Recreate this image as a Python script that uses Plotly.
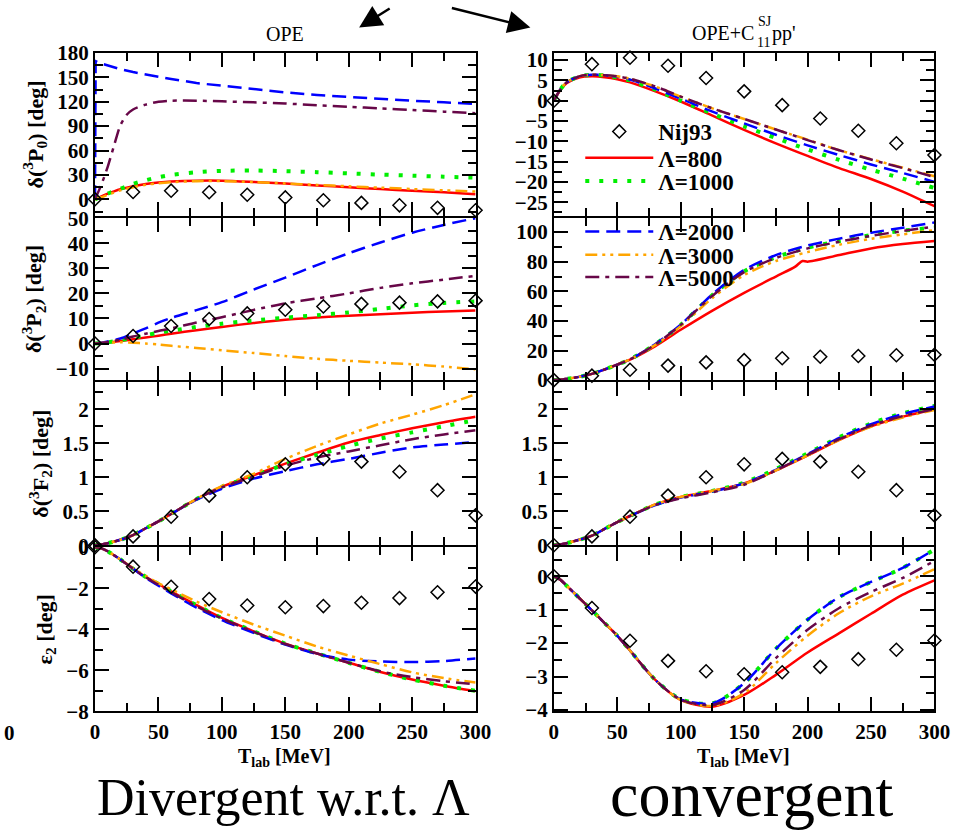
import plotly.graph_objects as go

# ---------------- data ----------------
T = [0, 5, 10, 20, 30, 40, 50, 60, 80, 100, 125, 150, 175, 200, 225, 250, 275, 300]
T_P0 = [0, 5, 10, 15, 20, 25, 30, 40, 50, 60, 80, 100, 125, 150, 175, 200, 225, 250, 275, 300]
T_P0_2000 = [0, 0.5, 5, 10, 20, 30, 45, 60, 80, 100, 125, 150, 175, 200, 225, 250, 275, 300]
T_P2C_800 = [0, 5, 10, 20, 30, 40, 50, 60, 80, 100, 125, 150, 175, 190, 196, 200, 225, 250, 275, 300]
T_NIJ = [0, 30, 60, 90, 120, 150, 180, 210, 240, 270, 300]

NIJ_P0 = [0, 9.0, 10.6, 8.6, 5.6, 2.3, -1.1, -4.4, -7.4, -10.5, -13.4]
NIJ_P2 = [0, 3.0, 7.0, 9.8, 12.0, 13.5, 14.8, 15.8, 16.3, 16.8, 17.1]
NIJ_F2 = [0, 0.13, 0.42, 0.73, 1.0, 1.19, 1.27, 1.23, 1.08, 0.81, 0.44]
NIJ_E2 = [0, -0.95, -1.93, -2.53, -2.84, -2.93, -2.87, -2.71, -2.48, -2.2, -1.92]

# 3P0, OPE (left)
P0_OPE_800 = [0, 3.5, 7, 9.8, 12.3, 14.3, 16, 18.8, 20.6, 21.8, 22.9, 22.9, 21.3, 19.3, 17.1, 14.8, 12.6, 10.6, 8.7, 6.3]
P0_OPE_1000 = [0, 3.5, 7, 10, 13, 16, 19, 23.5, 27.2, 30, 33.2, 35, 35.4, 34.6, 33.4, 31.9, 30.4, 29.1, 27.8, 26.6]
P0_OPE_2000 = [0, 170, 167, 164.5, 160, 156.5, 152, 148, 143, 139.5, 135, 131.5, 128.3, 125.7, 123.5, 121.3, 119.3, 117.3]
P0_OPE_3000 = [0, 2.5, 5.5, 8.3, 11, 13, 14.8, 17.8, 19.8, 21, 22.3, 22.4, 21.2, 19.5, 17.7, 16, 14.3, 12.6, 11, 9.5]
P0_OPE_5000 = [0, 18, 40, 66, 91, 104, 110.5, 116.5, 120, 121.3, 121.3, 120.5, 119.3, 117.8, 115.8, 113.8, 111.8, 109.8, 107.8, 106]

# 3P0, OPE + C pp' (right)
P0_C_800 = [0, 2.6, 4.3, 5.7, 6.0, 5.8, 5.3, 4.5, 2.3, -0.2, -3.7, -7.2, -10.5, -13.6, -16.6, -19.3, -22.4, -26]
P0_C_1000 = [0, 2.7, 4.5, 6.0, 6.4, 6.2, 5.7, 5.0, 2.7, 0.0, -3.2, -6.3, -9.2, -12.0, -14.6, -17.0, -19.2, -21.5]
P0_C_2000 = [0, 2.7, 4.5, 6.0, 6.4, 6.3, 5.9, 5.2, 3.0, 0.5, -2.7, -5.6, -8.4, -11.0, -13.4, -15.7, -17.8, -20.0]
P0_C_3000 = [0, 2.7, 4.5, 6.0, 6.4, 6.3, 6.0, 5.4, 3.5, 1.0, -1.9, -4.5, -7.1, -9.6, -12.2, -14.4, -16.5, -18.6]
P0_C_5000 = [0, 2.7, 4.5, 6.0, 6.4, 6.3, 6.0, 5.4, 3.5, 1.0, -1.9, -4.5, -7.1, -9.7, -12.2, -14.5, -16.6, -18.8]

# 3P2, OPE (left)
P2_OPE_800 = [0, 0.2, 0.4, 1.0, 1.7, 2.4, 3.1, 3.9, 5.3, 6.6, 8.2, 9.5, 10.4, 11.1, 11.7, 12.3, 12.8, 13.2]
P2_OPE_1000 = [0, 0.2, 0.5, 1.3, 2.3, 3.3, 4.3, 5.1, 6.6, 7.9, 9.2, 10.3, 11.3, 12.4, 13.8, 15.2, 16.2, 16.8]
P2_OPE_2000 = [0, 0.3, 0.8, 2.0, 4.0, 6.0, 8.3, 10.2, 13.3, 16.5, 21.5, 26.3, 31.3, 36.0, 40.3, 44.2, 47.3, 50.0]
P2_OPE_3000 = [0, 0.2, 0.3, 0.5, 0.3, 0.0, -0.4, -0.9, -1.8, -2.7, -3.8, -5.0, -6.1, -6.9, -7.6, -8.3, -9.2, -10.3]
P2_OPE_5000 = [0, 0.2, 0.6, 1.5, 2.8, 3.9, 5.0, 6.0, 8.4, 10.5, 13.4, 16.0, 18.0, 20.0, 22.2, 24.0, 25.5, 27.0]

# 3P2, OPE + C pp' (right)
P2_C_800 = [0, 0.2, 0.8, 2.2, 4.2, 7.2, 10.5, 13.8, 23.0, 34.0, 47.0, 59.0, 70.0, 76.5, 80.5, 80.0, 84.5, 89.0, 92.0, 94.0]
P2_C_1000 = [0, 0.2, 0.8, 2.2, 4.2, 7.2, 10.5, 14.0, 24.2, 37.3, 57.5, 73.5, 83.0, 89.5, 94.0, 98.0, 101.0, 103.0]
P2_C_2000 = [0, 0.2, 0.8, 2.2, 4.2, 7.2, 10.5, 14.0, 24.4, 37.5, 58.0, 74.5, 84.5, 91.0, 95.6, 99.6, 103.0, 106.5]
P2_C_3000 = [0, 0.2, 0.8, 2.2, 4.2, 7.2, 10.5, 14.0, 23.8, 36.5, 55.5, 71.0, 80.5, 86.5, 91.5, 95.5, 98.5, 101.4]
P2_C_5000 = [0, 0.2, 0.8, 2.2, 4.2, 7.2, 10.5, 14.0, 24.1, 37.3, 57.0, 73.0, 82.5, 89.0, 93.5, 97.5, 100.7, 103.8]

# 3F2, OPE (left)
F2_OPE_800 = [0, 0.01, 0.03, 0.08, 0.15, 0.25, 0.35, 0.46, 0.68, 0.86, 1.03, 1.20, 1.36, 1.51, 1.62, 1.72, 1.81, 1.89]
F2_OPE_1000 = [0, 0.01, 0.03, 0.08, 0.15, 0.25, 0.35, 0.46, 0.68, 0.86, 1.02, 1.19, 1.33, 1.46, 1.57, 1.66, 1.75, 1.84]
F2_OPE_2000 = [0, 0.01, 0.03, 0.08, 0.15, 0.25, 0.35, 0.46, 0.67, 0.83, 0.98, 1.09, 1.19, 1.27, 1.36, 1.44, 1.48, 1.52]
F2_OPE_3000 = [0, 0.01, 0.03, 0.08, 0.15, 0.25, 0.35, 0.46, 0.68, 0.87, 1.05, 1.27, 1.46, 1.63, 1.79, 1.92, 2.06, 2.22]
F2_OPE_5000 = [0, 0.01, 0.03, 0.08, 0.15, 0.25, 0.35, 0.46, 0.68, 0.85, 1.01, 1.17, 1.29, 1.38, 1.47, 1.56, 1.63, 1.69]

# 3F2, OPE + C pp' (right)
F2_C_800 = [0, 0.01, 0.03, 0.08, 0.14, 0.24, 0.34, 0.43, 0.60, 0.71, 0.80, 0.91, 1.10, 1.32, 1.55, 1.75, 1.89, 2.00]
F2_C_1000 = [0, 0.01, 0.03, 0.08, 0.14, 0.24, 0.34, 0.43, 0.60, 0.71, 0.80, 0.92, 1.12, 1.35, 1.59, 1.79, 1.94, 2.05]
F2_C_2000 = [0, 0.01, 0.03, 0.08, 0.14, 0.24, 0.34, 0.43, 0.59, 0.70, 0.79, 0.91, 1.11, 1.34, 1.58, 1.78, 1.93, 2.04]
F2_C_3000 = [0, 0.01, 0.03, 0.08, 0.14, 0.24, 0.34, 0.43, 0.60, 0.71, 0.80, 0.90, 1.10, 1.32, 1.55, 1.74, 1.88, 1.99]
F2_C_5000 = [0, 0.01, 0.03, 0.08, 0.14, 0.24, 0.34, 0.43, 0.59, 0.69, 0.78, 0.89, 1.10, 1.33, 1.56, 1.76, 1.90, 2.00]

# epsilon_2, OPE (left)
E2_OPE_800 = [0, -0.05, -0.2, -0.6, -1.05, -1.45, -1.8, -2.15, -2.82, -3.45, -4.1, -4.7, -5.18, -5.63, -6.08, -6.45, -6.75, -7.02]
E2_OPE_1000 = [0, -0.05, -0.2, -0.6, -1.05, -1.45, -1.8, -2.15, -2.83, -3.45, -4.1, -4.7, -5.18, -5.64, -6.08, -6.45, -6.75, -7.0]
E2_OPE_2000 = [0, -0.05, -0.2, -0.6, -1.05, -1.5, -1.88, -2.25, -2.95, -3.55, -4.18, -4.75, -5.2, -5.48, -5.57, -5.6, -5.55, -5.42]
E2_OPE_3000 = [0, -0.05, -0.2, -0.6, -1.03, -1.4, -1.75, -2.05, -2.65, -3.17, -3.77, -4.31, -4.84, -5.28, -5.7, -6.1, -6.38, -6.6]
E2_OPE_5000 = [0, -0.05, -0.2, -0.6, -1.05, -1.47, -1.83, -2.2, -2.88, -3.48, -4.12, -4.72, -5.18, -5.63, -6.05, -6.33, -6.53, -6.68]

# epsilon_2, OPE + C pp' (right)
E2_C_800 = [0, -0.1, -0.28, -0.65, -1.02, -1.4, -1.78, -2.22, -3.1, -3.7, -3.9, -3.55, -2.95, -2.28, -1.7, -1.12, -0.55, -0.12]
E2_C_1000 = [0, -0.1, -0.28, -0.65, -1.02, -1.4, -1.78, -2.22, -3.1, -3.68, -3.8, -3.2, -2.17, -1.3, -0.62, -0.17, 0.25, 0.8]
E2_C_2000 = [0, -0.1, -0.28, -0.65, -1.02, -1.4, -1.78, -2.22, -3.1, -3.68, -3.8, -3.2, -2.17, -1.3, -0.62, -0.17, 0.25, 0.8]
E2_C_3000 = [0, -0.1, -0.28, -0.65, -1.02, -1.4, -1.78, -2.22, -3.1, -3.7, -3.88, -3.5, -2.6, -1.78, -1.1, -0.6, -0.22, 0.21]
E2_C_5000 = [0, -0.1, -0.28, -0.65, -1.02, -1.4, -1.78, -2.22, -3.1, -3.69, -3.85, -3.4, -2.45, -1.6, -0.95, -0.47, -0.05, 0.46]

LAMBDAS = ["800", "1000", "2000", "3000", "5000"]
LEGEND_LABELS = ["Nij93", "Λ=800", "Λ=1000", "Λ=2000", "Λ=3000", "Λ=5000"]
Y_TITLES = ["δ(<sup>3</sup>P<sub>0</sub>) [deg]", "δ(<sup>3</sup>P<sub>2</sub>) [deg]",
            "δ(<sup>3</sup>F<sub>2</sub>) [deg]", "ε<sub>2</sub> [deg]"]
X_TICKS = [0, 50, 100, 150, 200, 250, 300]

# ---------------- styles ----------------
STYLE = {
    "800": dict(color="#ff0000", width=2.5, dash="solid"),
    "1000": dict(color="#00ee00", width=4, dash="4px,10px"),
    "2000": dict(color="#0000ff", width=2.5, dash="14px,7px"),
    "3000": dict(color="#ffa500", width=2.5, dash="12px,5px,3px,5px,3px,5px"),
    "5000": dict(color="#670748", width=2.5, dash="14px,6px,4px,6px"),
}
W, H = 970, 836
SERIF = "Liberation Serif"
LW = 2


def px_x(p):
    return p / W


def px_y(p):
    return 1 - p / H


COLS = [(92, 481), (561, 950)]
# plot areas; the 2px gaps hold the shared boundary lines
ROWS = [(42, 210), (212, 379), (381, 549), (551, 720)]
Y_RANGES = [
    [(-20.5, 180.2), (-28.4, 11.8)],
    [(-14.6, 50.1), (0, 109.6)],
    [(0, 2.4), (0, 2.4)],
    [(-8.0, 0.0), (-4.04, 0.87)],
]
Y_DTICK = [[(30, 15), (5, 2.5)], [(10, 5), (20, 10)], [(0.5, 0.25), (0.5, 0.25)], [(2, 1), (1, 0.5)]]
# legend entry centres (px) in the right-hand panels
LEGEND_Y = [123, 150, 174, 226, 250, 273]

panels = [
    [(T_P0, [P0_OPE_800, P0_OPE_1000, P0_OPE_2000, P0_OPE_3000, P0_OPE_5000], NIJ_P0),
     (T, [P0_C_800, P0_C_1000, P0_C_2000, P0_C_3000, P0_C_5000], NIJ_P0)],
    [(T, [P2_OPE_800, P2_OPE_1000, P2_OPE_2000, P2_OPE_3000, P2_OPE_5000], NIJ_P2),
     (T, [P2_C_800, P2_C_1000, P2_C_2000, P2_C_3000, P2_C_5000], NIJ_P2)],
    [(T, [F2_OPE_800, F2_OPE_1000, F2_OPE_2000, F2_OPE_3000, F2_OPE_5000], NIJ_F2),
     (T, [F2_C_800, F2_C_1000, F2_C_2000, F2_C_3000, F2_C_5000], NIJ_F2)],
    [(T, [E2_OPE_800, E2_OPE_1000, E2_OPE_2000, E2_OPE_3000, E2_OPE_5000], NIJ_E2),
     (T, [E2_C_800, E2_C_1000, E2_C_2000, E2_C_3000, E2_C_5000], NIJ_E2)],
]


def legend_key(i):
    return "legend" if i == 0 else f"legend{i + 1}"


fig = go.Figure()
layout = dict(
    width=W, height=H, margin=dict(l=0, r=0, t=0, b=0), autosize=False,
    paper_bgcolor="white", plot_bgcolor="white", showlegend=True,
    font=dict(family=SERIF, color="black"),
)

tickfont = dict(family=SERIF, size=21, color="black", weight="bold")
ytitlefont = dict(family=SERIF, size=22, color="black", weight="bold")

for r in range(4):
    for c in range(2):
        idx = r * 2 + c + 1
        xa = "x" if idx == 1 else f"x{idx}"
        ya = "y" if idx == 1 else f"y{idx}"
        xkey = "xaxis" if idx == 1 else f"xaxis{idx}"
        ykey = "yaxis" if idx == 1 else f"yaxis{idx}"
        x0, x1 = COLS[c]
        ytop, ybot = ROWS[r]
        common = dict(showline=True, linecolor="black", linewidth=LW, mirror="ticks",
                      ticks="inside", ticklen=14, tickwidth=LW, tickcolor="black",
                      showgrid=False, zeroline=False, tickfont=tickfont)
        layout[xkey] = dict(common, domain=[px_x(x0), px_x(x1)], anchor=ya,
                            range=[0, 300], tickmode="array", tickvals=X_TICKS,
                            showticklabels=(r == 3),
                            minor=dict(ticks="inside", ticklen=8, tickwidth=LW,
                                       tickcolor="black", dtick=25, tick0=0))
        lo, hi = Y_RANGES[r][c]
        dt, mdt = Y_DTICK[r][c]
        ydict = dict(common, domain=[px_y(ybot), px_y(ytop)], anchor=xa,
                     range=[lo, hi], dtick=dt, tick0=0,
                     minor=dict(ticks="inside", ticklen=8, tickwidth=LW,
                                tickcolor="black", dtick=mdt, tick0=0))
        if c == 0:
            ydict["title"] = dict(text=Y_TITLES[r], font=ytitlefont, standoff=8)
        layout[ykey] = ydict

        tx, series, nij = panels[r][c]
        show = (r == 0 and c == 1)
        for k, (lam, ys) in enumerate(zip(LAMBDAS, series)):
            xs = tx
            if r == 0 and c == 0 and lam == "2000":
                xs = T_P0_2000
            if r == 1 and c == 1 and lam == "800":
                xs = T_P2C_800
            st = STYLE[lam]
            shape = "linear" if (r == 0 and c == 0 and lam == "2000") else "spline"
            fig.add_trace(go.Scatter(
                x=xs, y=ys, xaxis=xa, yaxis=ya, mode="lines", cliponaxis=True,
                line=dict(color=st["color"], width=st["width"], dash=st["dash"],
                          shape=shape, smoothing=0.8),
                name=LEGEND_LABELS[k + 1], showlegend=show, legend=legend_key(k + 1),
            ))
        fig.add_trace(go.Scatter(
            x=T_NIJ, y=nij, xaxis=xa, yaxis=ya, mode="markers", cliponaxis=False,
            marker=dict(symbol="diamond-open", size=10, color="black",
                        line=dict(width=1.5, color="black")),
            name=LEGEND_LABELS[0], showlegend=show, legend=legend_key(0),
        ))

legfont = dict(family=SERIF, size=23, color="black", weight="bold")
for i, ly in enumerate(LEGEND_Y):
    layout[legend_key(i)] = dict(x=px_x(588), y=px_y(ly), xanchor="left", yanchor="middle",
                                 bgcolor="rgba(0,0,0,0)", font=legfont, borderwidth=0,
                                 itemwidth=68)

ann = []


def add_text(x, y, text, font, xanchor="center", yanchor="middle", **kw):
    ann.append(dict(x=px_x(x), y=px_y(y), xref="paper", yref="paper", text=text,
                    showarrow=False, font=font, xanchor=xanchor, yanchor=yanchor, **kw))


for cx in (286, 755):
    add_text(cx, 768, "T<sub>lab</sub> [MeV]", dict(family=SERIF, size=20, color="black", weight="bold"))
titlefont = dict(family=SERIF, size=20, color="black")
smallfont = dict(family=SERIF, size=14, color="black")
add_text(286, 23, "OPE", titlefont)
add_text(768, 22, "OPE+C", titlefont, xanchor="right")
add_text(768, 10, "SJ", smallfont, xanchor="left")
add_text(767, 31, "11", smallfont, xanchor="left")
add_text(782, 22, "pp'", titlefont, xanchor="left")
add_text(285, 809, "Divergent w.r.t. Λ", dict(family=SERIF, size=52, color="black"))
add_text(763, 806, "convergent", dict(family=SERIF, size=64, color="black"))
add_text(-3, 742, "0", tickfont, xanchor="left")

# arrows at the top
for tip, (ax, ay) in (((362, 16), (32, -20)), ((537, 16), (-80, -20))):
    ann.append(dict(x=px_x(tip[0]), y=px_y(tip[1]), xref="paper", yref="paper", text="",
                    showarrow=True, ax=ax, ay=ay, arrowhead=2, arrowsize=1.8,
                    arrowwidth=2.5, arrowcolor="black"))
layout["annotations"] = ann

fig.update_layout(**layout)
fig.write_html("out.html")
